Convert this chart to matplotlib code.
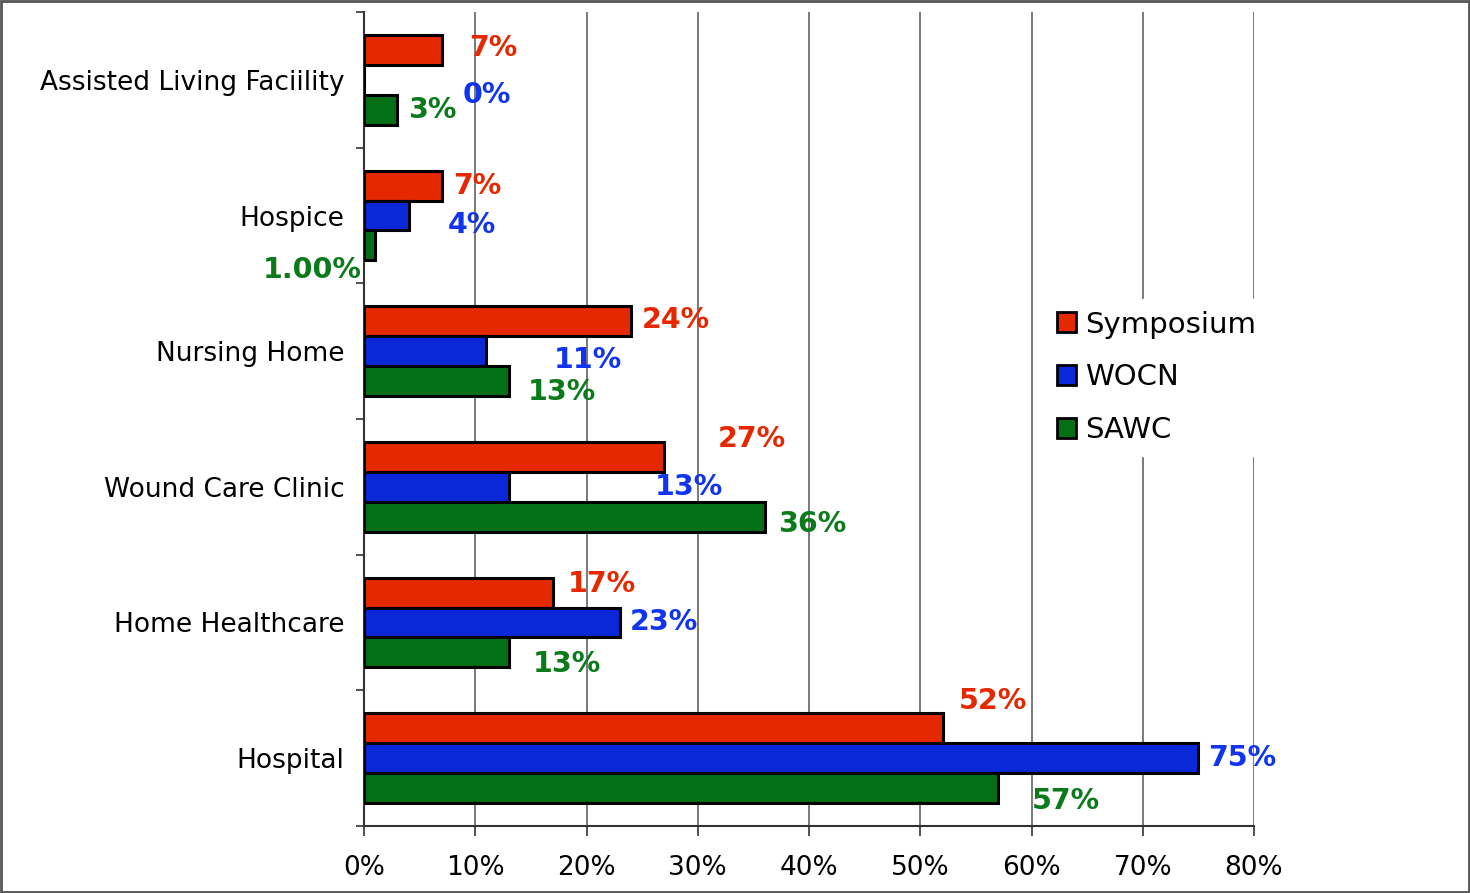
import numpy as np
import matplotlib.pyplot as plt
from matplotlib.patches import Rectangle

categories = ["Assisted Living Faciility", "Hospice", "Nursing Home",
              "Wound Care Clinic", "Home Healthcare", "Hospital"]
series = ["Symposium", "WOCN", "SAWC"]
symposium = [7, 7, 24, 27, 17, 52]
wocn = [0, 4, 11, 13, 23, 75]
sawc = [3, 1, 13, 36, 13, 57]
labels_symposium = ["7%", "7%", "24%", "27%", "17%", "52%"]
labels_wocn = ["0%", "4%", "11%", "13%", "23%", "75%"]
labels_sawc = ["3%", "1.00%", "13%", "36%", "13%", "57%"]
xticks = [0, 10, 20, 30, 40, 50, 60, 70, 80]

# label offsets (dx in %, dy in category units) - the original has them scattered
off_symposium = [(4.6, -0.01), (3.2, 0.0), (4.0, -0.01), (7.9, -0.13), (4.4, -0.06), (4.5, -0.2)]
off_wocn = [(11.0, 0.11), (5.7, 0.07), (9.1, 0.065), (16.2, 0.0), (4.0, 0.0), (3.9, 0.0)]
off_sawc = [(3.1, 0.0), (-5.7, 0.18), (4.8, 0.08), (4.3, 0.05), (5.2, 0.085), (6.1, 0.095)]

bar_colors = ["#E52800", "#0A28D8", "#037018"]
text_colors = ["#E52800", "#1034F0", "#0A7A1A"]

plt.rcParams['font.family'] = ['DejaVu Sans']

fig = plt.figure(figsize=(14.7, 8.93), dpi=100)
ax = fig.add_axes([364 / 1470, 1 - 826 / 893, 890 / 1470, 814 / 893])

y = np.arange(len(categories))
h = 0.221
data = [symposium, wocn, sawc]
labs = [labels_symposium, labels_wocn, labels_sawc]
offs = [off_symposium, off_wocn, off_sawc]
for k in range(3):
    yy = y + (k - 1) * h
    ax.barh(yy, data[k], height=h, color=bar_colors[k], edgecolor="black",
            linewidth=2.2, label=series[k], zorder=3)
    for i in range(len(categories)):
        dx, dy = offs[k][i]
        ax.text(data[k][i] + dx, yy[i] + dy, labs[k][i], color=text_colors[k],
                fontsize=20.5, fontweight="bold", ha="center", va="center", zorder=5)

ax.set_xlim(0, 80)
ax.set_ylim(len(categories) - 0.5, -0.5)
ax.set_xticks(xticks)
ax.set_xticklabels([f"{t}%" for t in xticks], fontsize=19)
ax.set_yticks(y)
ax.set_yticklabels(categories, fontsize=19)
ax.set_yticks(np.arange(-0.5, len(categories)), minor=True)
ax.tick_params(axis="y", which="major", length=0, pad=14)
ax.tick_params(axis="y", which="minor", length=6, width=1.2, direction="out", color="#333333")
ax.tick_params(axis="x", length=7, width=1.2, color="#333333", pad=14)
ax.xaxis.grid(True, color="#555555", linewidth=1.1, zorder=0)
ax.set_axisbelow(True)
for s in ["top", "right"]:
    ax.spines[s].set_visible(False)
for s in ["left", "bottom"]:
    ax.spines[s].set_color("#333333")
    ax.spines[s].set_linewidth(1.5)

leg = ax.legend(loc="center left", bbox_to_anchor=(0.765, 0.551), fontsize=21,
                frameon=True, fancybox=False, edgecolor="white", facecolor="white",
                framealpha=1, handlelength=0.68, handleheight=0.68, handletextpad=0.3,
                labelspacing=0.85, borderpad=0.4, borderaxespad=0)
for p in leg.get_patches():
    p.set_linewidth(2)

fig.patches.append(Rectangle((0.001, 0.001), 0.998, 0.998, transform=fig.transFigure,
                             fill=False, edgecolor="#555555", linewidth=2))

fig.savefig("out.png", dpi=100)
